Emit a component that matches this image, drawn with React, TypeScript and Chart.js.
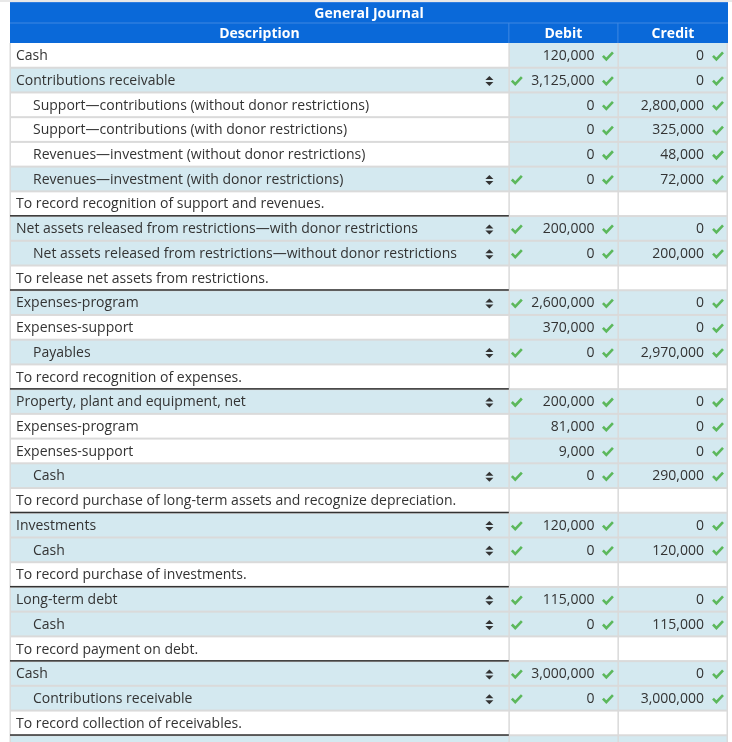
import React, { useEffect, useRef } from "react";
import { Chart, registerables } from "chart.js";

Chart.register(...registerables);

// ---------- data ----------
const TITLE = "General Journal";
const HEADERS = ["Description", "Debit", "Credit"];

const descriptions = [
  "Cash",
  "Contributions receivable",
  "Support\u2014contributions (without donor restrictions)",
  "Support\u2014contributions (with donor restrictions)",
  "Revenues\u2014investment (without donor restrictions)",
  "Revenues\u2014investment (with donor restrictions)",
  "To record recognition of support and revenues.",
  "Net assets released from restrictions\u2014with donor restrictions",
  "Net assets released from restrictions\u2014without donor restrictions",
  "To release net assets from restrictions.",
  "Expenses-program",
  "Expenses-support",
  "Payables",
  "To record recognition of expenses.",
  "Property, plant and equipment, net",
  "Expenses-program",
  "Expenses-support",
  "Cash",
  "To record purchase of long-term assets and recognize depreciation.",
  "Investments",
  "Cash",
  "To record purchase of investments.",
  "Long-term debt",
  "Cash",
  "To record payment on debt.",
  "Cash",
  "Contributions receivable",
  "To record collection of receivables.",
  "",
];

const indents = [0, 0, 1, 1, 1, 1, 0, 0, 1, 0, 0, 0, 1, 0, 0, 0, 0, 1, 0, 0, 1, 0, 0, 1, 0, 0, 1, 0, 0];

const dropdowns = [0, 1, 0, 0, 0, 1, 0, 1, 1, 0, 1, 0, 1, 0, 1, 0, 0, 1, 0, 1, 1, 0, 1, 1, 0, 1, 1, 0, 1];

const debits: (number | null)[] = [
  120000, 3125000, 0, 0, 0, 0, null, 200000, 0, null, 2600000, 370000, 0, null,
  200000, 81000, 9000, 0, null, 120000, 0, null, 115000, 0, null, 3000000, 0, null, null,
];

const credits: (number | null)[] = [
  0, 0, 2800000, 325000, 48000, 72000, null, 0, 200000, null, 0, 0, 2970000, null,
  0, 0, 0, 290000, null, 0, 120000, null, 0, 115000, null, 0, 3000000, null, null,
];

// column edges in table units (layout)
const COL_EDGES = [0, 498.5, 607.5, 717.5];

// ---------- styles ----------
const HEADER_BLUE = "#0a69d9";
const HEADER_LINE = "#3f88e2";
const ROW_BLUE = "#d4e9f0";
const GRID = "#dadada";
const TEXT = "#333333";
const CHECK = "#5cb85c";
const FONT = "'Open Sans', sans-serif";

const isNote = (i: number) => debits[i] === null && credits[i] === null && descriptions[i] !== "";

function drawCheck(ctx: CanvasRenderingContext2D, cx: number, cy: number) {
  ctx.save();
  ctx.strokeStyle = CHECK;
  ctx.lineWidth = 2.6;
  ctx.lineCap = "butt";
  ctx.lineJoin = "miter";
  ctx.beginPath();
  ctx.moveTo(cx - 5, cy - 0.5);
  ctx.lineTo(cx - 1.6, cy + 3);
  ctx.lineTo(cx + 5, cy - 4);
  ctx.stroke();
  ctx.restore();
}

function drawSort(ctx: CanvasRenderingContext2D, cx: number, cy: number) {
  ctx.save();
  ctx.fillStyle = "#333";
  ctx.beginPath();
  ctx.moveTo(cx - 4, cy - 1);
  ctx.lineTo(cx + 4, cy - 1);
  ctx.lineTo(cx, cy - 5);
  ctx.closePath();
  ctx.fill();
  ctx.beginPath();
  ctx.moveTo(cx - 4, cy + 1);
  ctx.lineTo(cx + 4, cy + 1);
  ctx.lineTo(cx, cy + 5);
  ctx.closePath();
  ctx.fill();
  ctx.restore();
}

const fmt = (v: number) => v.toLocaleString("en-US");

const tablePlugin = {
  id: "journalTable",
  beforeDraw(chart: any) {
    const { ctx, chartArea } = chart;
    const x = chart.scales.x;
    ctx.save();
    ctx.fillStyle = "#ffffff";
    ctx.fillRect(0, 0, chart.width, chart.height);
    ctx.fillStyle = "#e8e8e8";
    ctx.fillRect(0, 0, chart.width, 2);
    const L = chartArea.left;
    const R = chartArea.right;
    const T = 2;
    const B = chartArea.top;
    const mid = 23;
    ctx.fillStyle = HEADER_BLUE;
    ctx.fillRect(L, T, R - L, B - T);
    ctx.fillStyle = "#2f7de0";
    ctx.fillRect(L, T, R - L, 1);
    ctx.fillStyle = HEADER_LINE;
    ctx.fillRect(L, mid - 0.5, R - L, 1);
    [COL_EDGES[1], COL_EDGES[2]].forEach((e) => {
      const px = x.getPixelForValue(e);
      ctx.fillRect(px - 0.5, mid, 1, B - mid);
    });
    ctx.fillStyle = "#ffffff";
    ctx.font = `bold 14px ${FONT}`;
    ctx.textAlign = "center";
    ctx.textBaseline = "middle";
    ctx.fillText(TITLE, (L + R) / 2, (T + mid) / 2 + 1.5);
    HEADERS.forEach((h, i) => {
      const a = x.getPixelForValue(COL_EDGES[i]);
      const b = x.getPixelForValue(COL_EDGES[i + 1]);
      ctx.fillText(h, (a + b) / 2, (mid + B) / 2 + 1);
    });
    ctx.restore();
  },
  afterDatasetsDraw(chart: any) {
    const { ctx, chartArea } = chart;
    const x = chart.scales.x;
    const y = chart.scales.y;
    const L = chartArea.left;
    const R = chartArea.right;
    const half = (y.getPixelForValue(1) - y.getPixelForValue(0)) / 2;
    const e1 = x.getPixelForValue(COL_EDGES[1]);
    const e2 = x.getPixelForValue(COL_EDGES[2]);
    const e3 = x.getPixelForValue(COL_EDGES[3]);
    ctx.save();
    // horizontal grid
    ctx.fillStyle = GRID;
    for (let i = 0; i < descriptions.length; i++) {
      const yb = y.getPixelForValue(i) + half;
      ctx.fillRect(L, yb - 1, R - L, 2);
    }
    // vertical grid
    ctx.fillStyle = GRID;
    [L, e1, e2].forEach((px) => ctx.fillRect(px - 0.5, chartArea.top, 1.5, chartArea.bottom - chartArea.top));
    ctx.fillRect(e3 - 1.5, chartArea.top, 1.5, chartArea.bottom - chartArea.top);
    // entry separators
    ctx.fillStyle = "#333";
    for (let i = 1; i < descriptions.length; i++) {
      if (isNote(i - 1)) {
        const yt = y.getPixelForValue(i) - half;
        ctx.fillRect(L, yt - 1, e1 - L, 1.5);
      }
    }
    // text & icons
    ctx.font = `14px ${FONT}`;
    ctx.textBaseline = "middle";
    for (let i = 0; i < descriptions.length; i++) {
      const cy = y.getPixelForValue(i);
      ctx.fillStyle = TEXT;
      ctx.textAlign = "left";
      ctx.fillText(descriptions[i], L + (indents[i] ? 23 : 6), cy + 0.8);
      if (dropdowns[i] && descriptions[i]) {
        drawSort(ctx, e1 - 19.5, cy + 1);
        drawCheck(ctx, e1 + 8, cy + 1);
      }
      const d = debits[i];
      const c = credits[i];
      ctx.textAlign = "right";
      ctx.fillStyle = TEXT;
      if (d !== null) {
        ctx.fillText(fmt(d), e2 - 23.5, cy + 0.8);
        drawCheck(ctx, e2 - 10, cy + 1);
      }
      if (c !== null) {
        ctx.fillStyle = TEXT;
        ctx.fillText(fmt(c), e3 - 24, cy + 0.8);
        drawCheck(ctx, e3 - 10, cy + 1);
      }
    }
    ctx.restore();
  },
};

export default function App() {
  const ref = useRef<HTMLCanvasElement>(null);

  useEffect(() => {
    if (!ref.current) return;
    const descBg = descriptions.map((_, i) => (dropdowns[i] ? ROW_BLUE : "#ffffff"));
    const amountBg = descriptions.map((_, i) => (isNote(i) ? "#ffffff" : ROW_BLUE));
    const chart = new Chart(ref.current, {
      type: "bar",
      data: {
        labels: descriptions.map((d, i) => d || `row${i}`),
        datasets: [
          {
            label: HEADERS[0],
            data: descriptions.map(() => [COL_EDGES[0], COL_EDGES[1]] as [number, number]),
            backgroundColor: descBg,
            grouped: false,
            barPercentage: 1,
            categoryPercentage: 1,
            borderWidth: 0,
          } as any,
          {
            label: HEADERS[1],
            data: descriptions.map(() => [COL_EDGES[1], COL_EDGES[2]] as [number, number]),
            backgroundColor: amountBg,
            grouped: false,
            barPercentage: 1,
            categoryPercentage: 1,
            borderWidth: 0,
          } as any,
          {
            label: HEADERS[2],
            data: descriptions.map(() => [COL_EDGES[2], COL_EDGES[3]] as [number, number]),
            backgroundColor: amountBg,
            grouped: false,
            barPercentage: 1,
            categoryPercentage: 1,
            borderWidth: 0,
          } as any,
        ],
      },
      options: {
        indexAxis: "y",
        responsive: false,
        animation: false,
        layout: { padding: { top: 43, left: 10, right: 4, bottom: 0 } },
        scales: {
          x: { type: "linear", min: COL_EDGES[0], max: COL_EDGES[3], display: false },
          y: { type: "category", display: false, offset: true },
        },
        plugins: { legend: { display: false }, tooltip: { enabled: false } },
      },
      plugins: [tablePlugin],
    });
    const fonts = (document as any).fonts;
    if (fonts && fonts.load) {
      Promise.all([fonts.load(`14px ${FONT}`), fonts.load(`bold 14px ${FONT}`)]).then(() => chart.update());
    }
    return () => chart.destroy();
  }, []);

  return (
    <div style={{ position: "fixed", left: 0, top: 0, width: 732, height: 742, overflow: "hidden", background: "#fff" }}>
      <canvas ref={ref} width={732} height={760} style={{ display: "block" }} />
    </div>
  );
}
